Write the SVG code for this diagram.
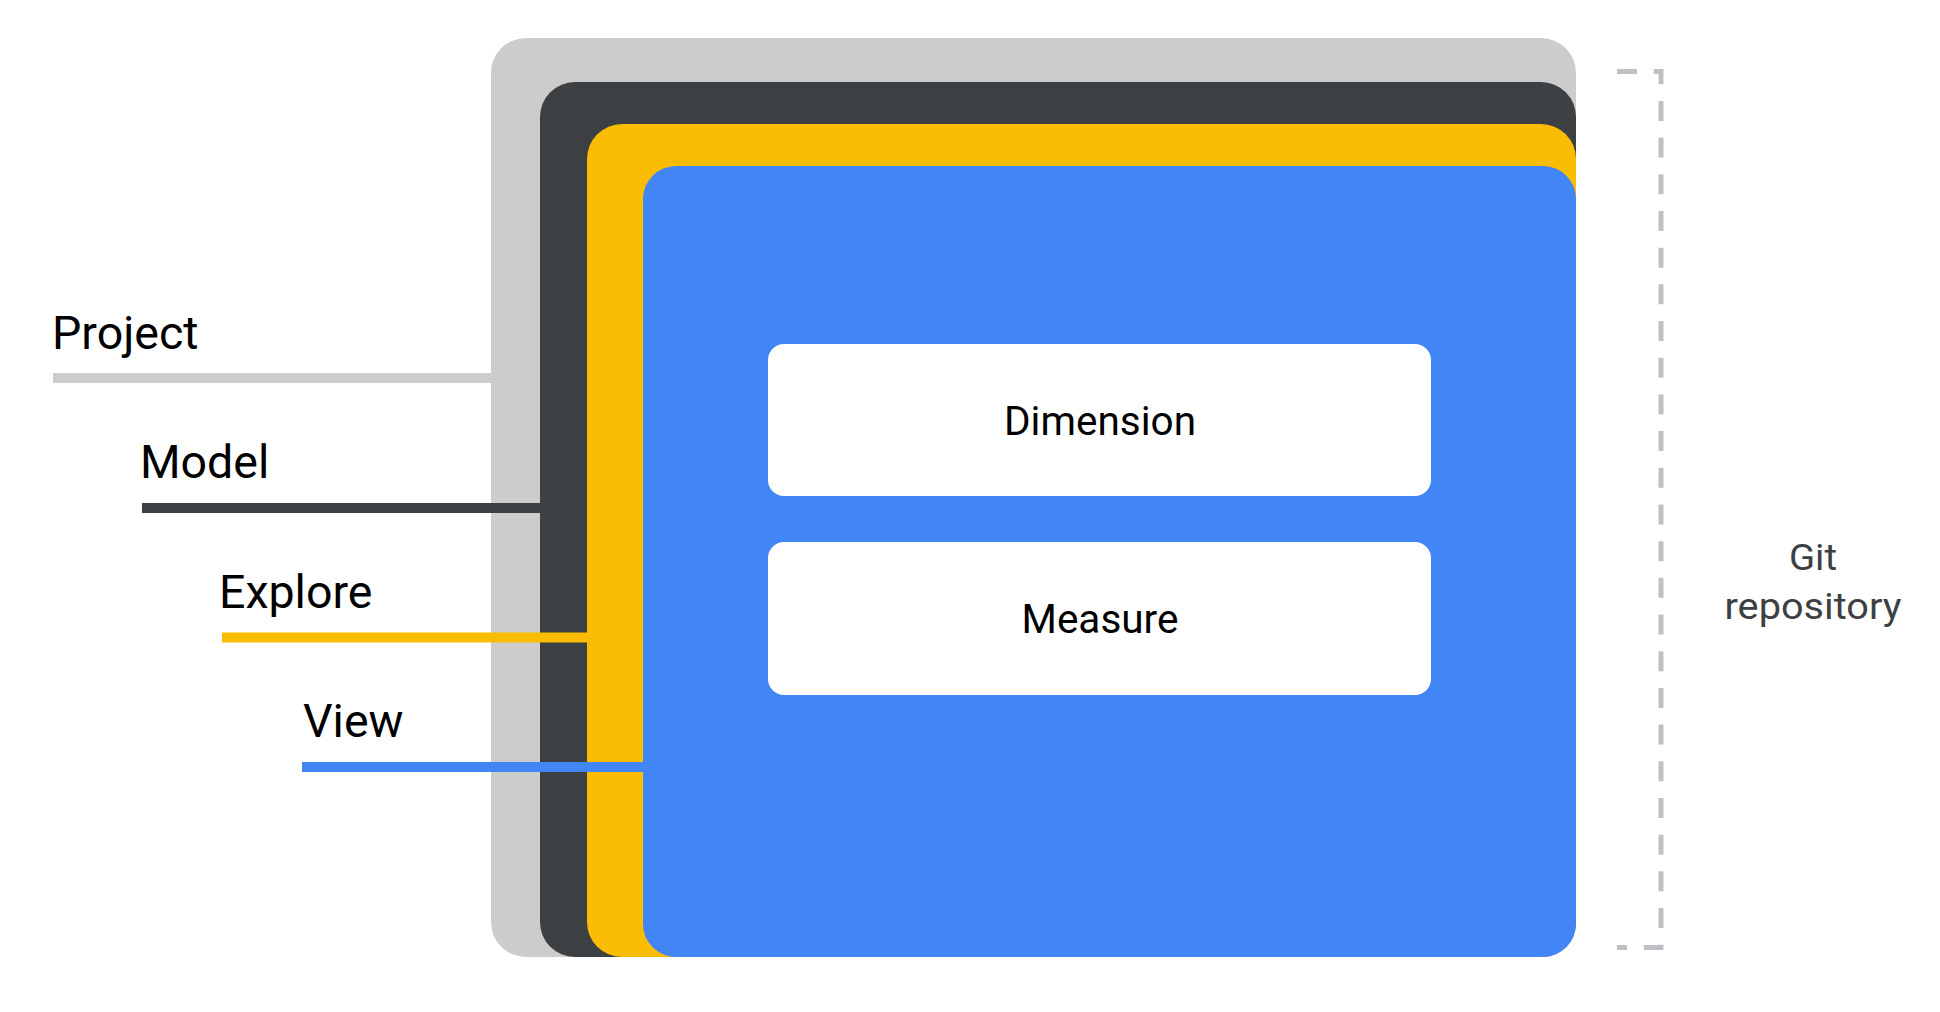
<svg xmlns="http://www.w3.org/2000/svg" width="1940" height="1012" viewBox="0 0 1940 1012">
<style>
.lbl{font-family:Roboto,"Liberation Sans",sans-serif;font-size:46.5px;fill:#000}
.inner{font-family:Roboto,"Liberation Sans",sans-serif;font-size:40.5px;fill:#000;text-anchor:middle}
.git{font-family:Roboto,"Liberation Sans",sans-serif;font-size:37px;fill:#3c4043;text-anchor:middle}
.box{fill:#fff}
</style>
<rect width="1940" height="1012" fill="#fff"/>
<g id="project">
<rect x="491" y="38" width="1085" height="919" rx="35" fill="#cccccc"/>
</g>
<g id="model">
<rect x="540" y="82" width="1036" height="875" rx="35" fill="#3c4043"/>
</g>
<g id="explore">
<rect x="587" y="124" width="989" height="833" rx="35" fill="#fbbc04"/>
</g>
<g id="view">
<rect x="643" y="166" width="933" height="791" rx="33" fill="#4285f4"/>
</g>
<g id="dimension">
<rect class="box" x="768" y="344" width="663" height="152" rx="16"/>
<text class="inner" x="1100" y="435">Dimension</text>
</g>
<g id="measure">
<rect class="box" x="768" y="542" width="663" height="153" rx="16"/>
<text class="inner" x="1100" y="633">Measure</text>
</g>
<g id="connectors">
<line x1="53" y1="378" x2="491" y2="378" stroke="#cccccc" stroke-width="10"/>
<line x1="142" y1="508" x2="540" y2="508" stroke="#3c4043" stroke-width="10"/>
<line x1="222" y1="637.5" x2="587" y2="637.5" stroke="#fbbc04" stroke-width="10"/>
<line x1="302" y1="767" x2="643" y2="767" stroke="#4285f4" stroke-width="10"/>
<path d="M1617 71.5 H1661 V947.5 H1617" fill="none" stroke="#bdc1c6" stroke-width="5" stroke-dasharray="20 16.69"/>
</g>
<g id="labels">
<text class="lbl" x="52" y="349">Project</text>
<text class="lbl" x="140" y="478">Model</text>
<text class="lbl" x="219" y="608">Explore</text>
<text class="lbl" x="303" y="737">View</text>
</g>
<g id="git-repository">
<text class="git" x="1813" y="570" textLength="48" lengthAdjust="spacingAndGlyphs">Git</text>
<text class="git" x="1813" y="619" textLength="177" lengthAdjust="spacingAndGlyphs">repository</text>
</g>
</svg>
